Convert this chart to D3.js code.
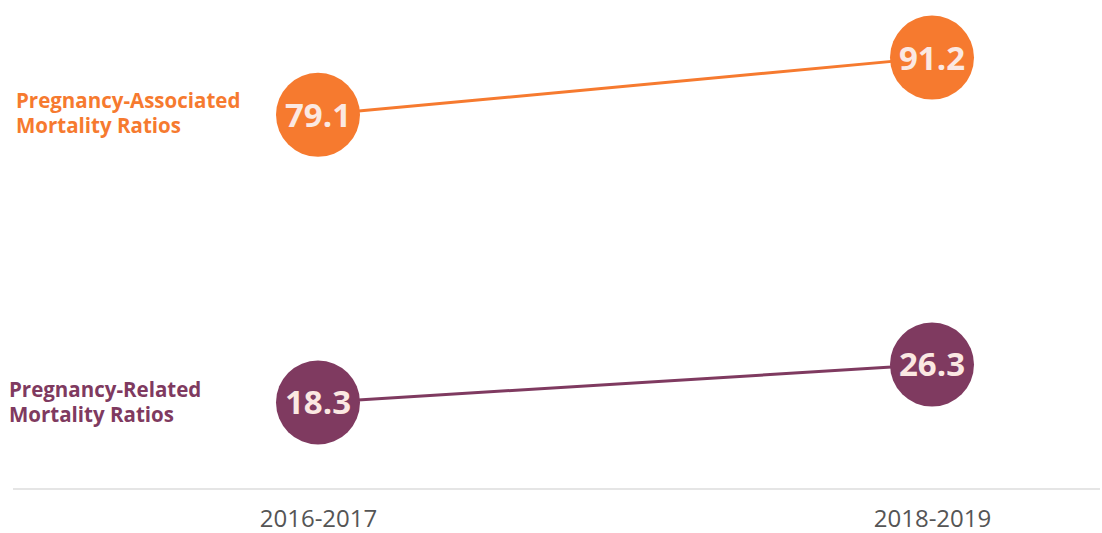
<!DOCTYPE html>
<html>
<head>
<meta charset="utf-8">
<script src="https://cdn.jsdelivr.net/npm/d3@7"></script>
<style>
  body { margin: 0; background: #fff; }
  svg { font-family: "Open Sans", sans-serif; }
</style>
</head>
<body>
<div id="chart"></div>
<script>
// data
var periods = ["2016-2017", "2018-2019"];
var associated = [79.1, 91.2];
var related = [18.3, 26.3];
var seriesNames = [["Pregnancy-Associated", "Mortality Ratios"], ["Pregnancy-Related", "Mortality Ratios"]];

var width = 1102, height = 533;

var svg = d3.select("#chart")
  .append("svg")
	.attr("width", width)
	.attr("height", height);

var x = d3.scalePoint()
	.domain(periods)
	.range([318, 932]);

var y = d3.scaleLinear()
	.domain([0, 100])
	.range([489, 16]);

// baseline
svg.append("line")
	.attr("x1", 13).attr("x2", 1100)
	.attr("y1", y(0)).attr("y2", y(0))
	.attr("stroke", "#dcdcdc")
	.attr("stroke-width", 1.5);

// x axis labels
svg.append("g")
	.attr("transform", "translate(0," + y(0) + ")")
	.call(d3.axisBottom(x).tickSize(0).tickPadding(21))
	.call(function (g) { g.select(".domain").remove(); })
	.selectAll("text")
	  .attr("font-size", 24)
	  .attr("fill", "#555")
	  .attr("font-family", "'Open Sans', sans-serif");

var series = [
	{ values: associated, color: "#f67a2f", name: seriesNames[0], lx: 16, ly: 101 },
	{ values: related, color: "#7f3a60", name: seriesNames[1], lx: 9, ly: 390 }
];

series.forEach(function (s) {
	var pts = periods.map(function (p, i) { return { p: p, v: s.values[i] }; });

	svg.append("path")
		.datum(pts)
		.attr("fill", "none")
		.attr("stroke", s.color)
		.attr("stroke-width", 3)
		.attr("d", d3.line()
			.x(function (d) { return x(d.p); })
			.y(function (d) { return y(d.v); }));

	svg.append("g")
		.selectAll("circle")
		.data(pts)
		.enter()
		.append("circle")
		  .attr("cx", function (d) { return x(d.p); })
		  .attr("cy", function (d) { return y(d.v); })
		  .attr("r", 42)
		  .attr("fill", s.color);

	svg.append("g")
		.selectAll("text")
		.data(pts)
		.enter()
		.append("text")
		  .attr("x", function (d) { return x(d.p); })
		  .attr("y", function (d) { return y(d.v); })
		  .attr("dy", "0.36em")
		  .attr("text-anchor", "middle")
		  .attr("font-size", 33)
		  .attr("font-weight", "bold")
		  .attr("fill", "#fbe8e2")
		  .text(function (d) { return d.v.toFixed(1); });

	var label = svg.append("text")
		.attr("x", s.lx)
		.attr("y", s.ly)
		.attr("font-size", 20.5)
		.attr("font-weight", "bold")
		.attr("fill", s.color);
	s.name.forEach(function (line, i) {
		label.append("tspan")
			.attr("x", s.lx)
			.attr("dy", i == 0 ? "0.35em" : "1.2em")
			.text(line);
	});
});
</script>
</body>
</html>
